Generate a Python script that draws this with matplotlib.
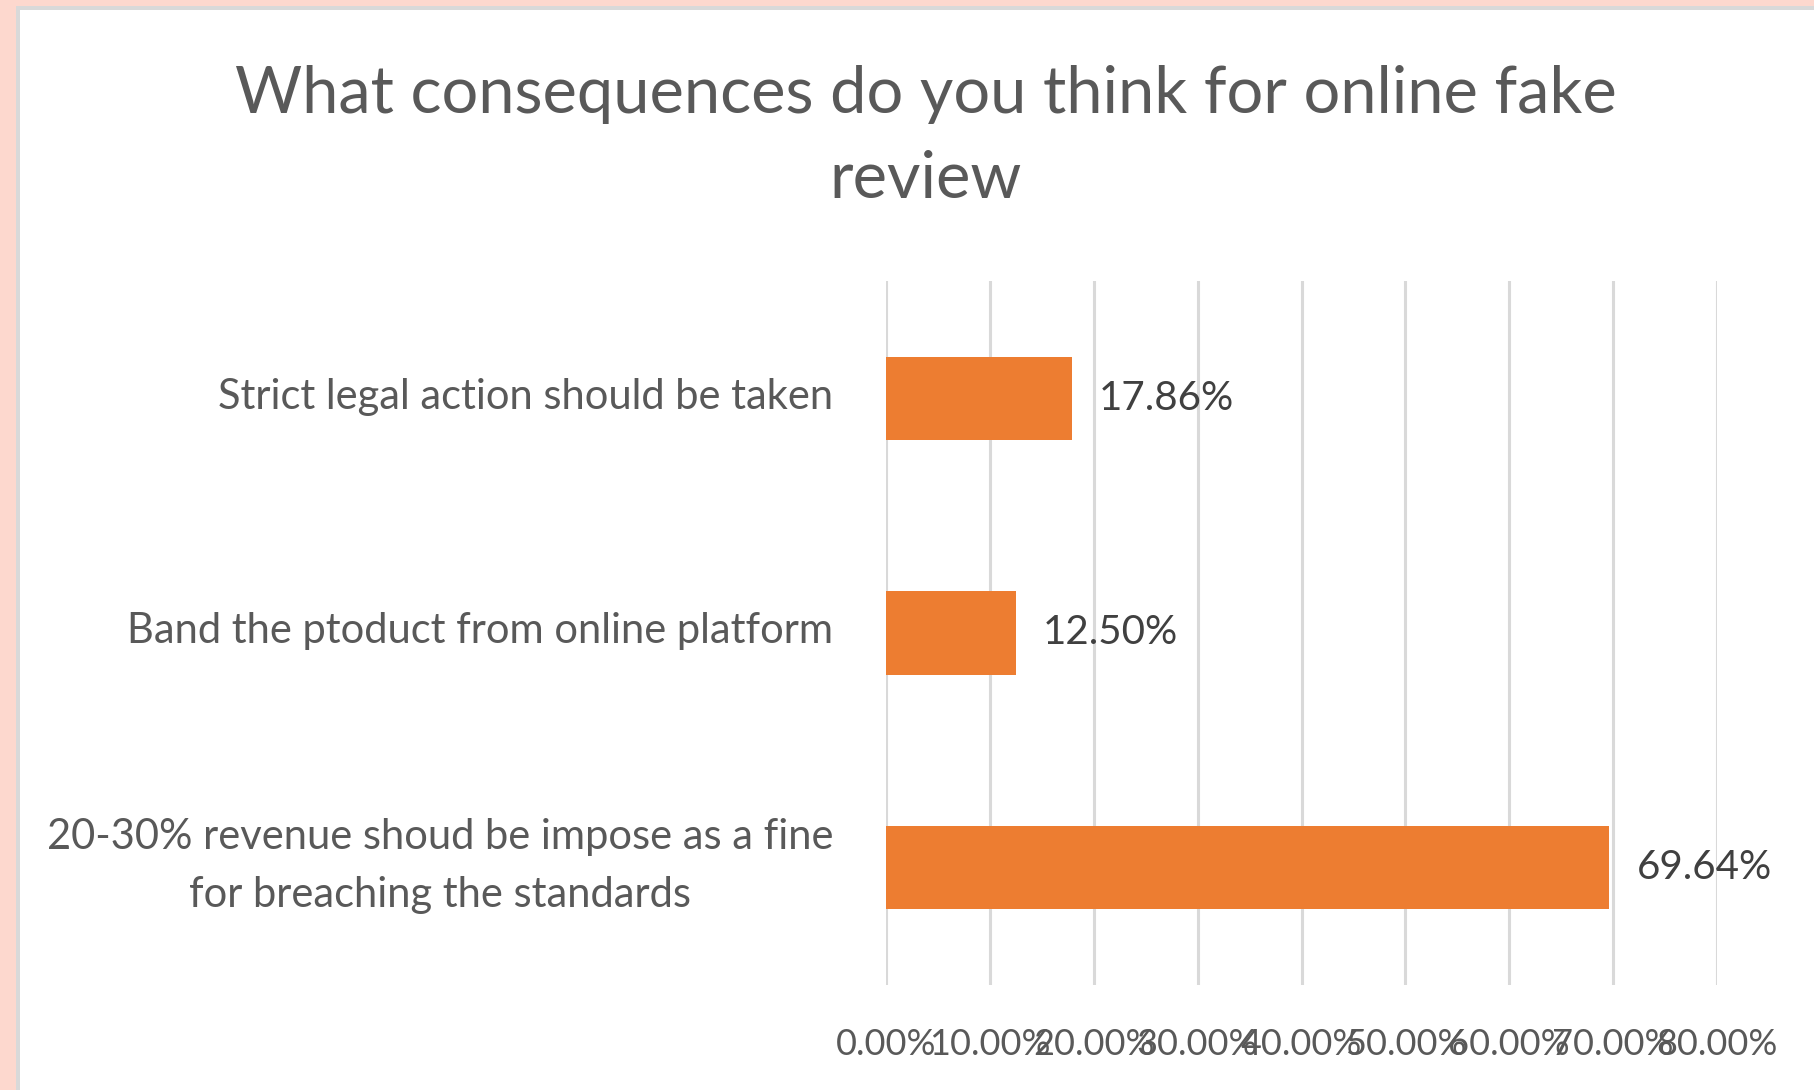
import matplotlib
matplotlib.use("Agg")
import matplotlib.pyplot as plt
from matplotlib.patches import Rectangle
from matplotlib.ticker import FuncFormatter, MultipleLocator

categories = [
    "Strict legal action should be taken",
    "Band the ptoduct from online platform",
    "20-30% revenue shoud be impose as a fine\nfor breaching the standards",
]
values = [17.86, 12.50, 69.64]
title = "What consequences do you think for online fake\nreview"

W, H = 1814, 1090
fig = plt.figure(figsize=(W / 100, H / 100), dpi=100)
fig.patch.set_facecolor("#FDD8CE")
# grey frame and white chart area
fig.patches.append(Rectangle((16 / W, 0), 1, 1 - 6 / H, transform=fig.transFigure,
                             facecolor="#D9D9D9", edgecolor="none", zorder=-2))
fig.patches.append(Rectangle((20 / W, 0), 1, 1 - 10 / H, transform=fig.transFigure,
                             facecolor="white", edgecolor="none", zorder=-1))

plt.rcParams["font.family"] = ["Lato", "DejaVu Sans"]

left, right = 886 / W, 1717 / W
top, bottom = 1 - 281 / H, 1 - 985 / H
ax = fig.add_axes([left, bottom, right - left, top - bottom])
ax.set_facecolor("none")

pos = list(range(len(categories)))
ax.barh(pos, [v / 100 for v in values], height=0.355, color="#ED7D31", zorder=3)
ax.set_ylim(len(categories) - 0.5, -0.5)
ax.set_xlim(0, 0.8)
ax.xaxis.set_major_locator(MultipleLocator(0.1))
ax.xaxis.set_major_formatter(FuncFormatter(lambda x, p: f"{x*100:.2f}%"))
ax.grid(axis="x", color="#D9D9D9", linewidth=2.2, zorder=0)
for s in ax.spines.values():
    s.set_visible(False)
ax.tick_params(axis="x", length=0, pad=31, labelsize=26, labelcolor="#595959")
ax.tick_params(axis="y", length=0)
ax.set_yticks(pos)
ax.set_yticklabels([""] * len(pos))

for p, lab in zip(pos, categories):
    ax.annotate(lab, xy=(0, p), xycoords=("axes fraction", "data"),
                xytext=(-38, 1.2), textcoords="offset points",
                ha="right", va="center", multialignment="center",
                fontsize=30, color="#595959", linespacing=1.65)

for p, v in zip(pos, values):
    ax.text(v / 100 + 0.026, p, f"{v:.2f}%", va="center", ha="left",
            fontsize=29, color="#404040")

fig.text(926 / W, 1 - 137 / H, title, ha="center", va="center", fontsize=46.7,
         color="#595959", linespacing=1.55)

fig.savefig("out.png", dpi=100, facecolor=fig.get_facecolor())
